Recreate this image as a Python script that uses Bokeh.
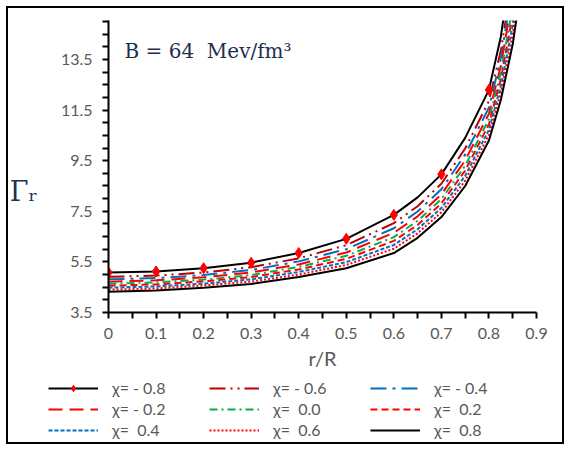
from bokeh.plotting import figure
from bokeh.layouts import column, row
from bokeh.models import Range1d, FixedTicker, Legend, LegendItem, Label
from bokeh.embed import file_html
from bokeh.resources import INLINE

# ---- data ----
r_R = [0, 0.1, 0.2, 0.3, 0.4, 0.5, 0.6, 0.65, 0.7, 0.75, 0.8, 0.825, 0.85, 0.875]
chi_m08 = [5.08, 5.12, 5.25, 5.47, 5.85, 6.41, 7.36, 8.05, 8.96, 10.40, 12.30, 14.40, 17.60, 23.00]
chi_m06 = [4.91, 4.96, 5.08, 5.29, 5.64, 6.16, 7.03, 7.70, 8.59, 9.98, 11.86, 13.85, 16.80, 21.75]
chi_m04 = [4.81, 4.86, 4.98, 5.18, 5.52, 6.00, 6.83, 7.49, 8.37, 9.74, 11.60, 13.55, 16.40, 21.01]
chi_m02 = [4.72, 4.77, 4.89, 5.08, 5.40, 5.87, 6.65, 7.30, 8.17, 9.51, 11.36, 13.25, 16.00, 20.32]
chi_p00 = [4.64, 4.69, 4.80, 4.98, 5.30, 5.74, 6.48, 7.12, 7.98, 9.30, 11.14, 12.98, 15.60, 19.69]
chi_p02 = [4.56, 4.61, 4.73, 4.90, 5.20, 5.62, 6.33, 6.96, 7.81, 9.11, 10.94, 12.72, 15.25, 19.12]
chi_p04 = [4.48, 4.53, 4.64, 4.81, 5.10, 5.49, 6.17, 6.79, 7.63, 8.90, 10.72, 12.45, 14.85, 18.50]
chi_p06 = [4.40, 4.45, 4.57, 4.72, 5.00, 5.38, 6.02, 6.63, 7.46, 8.71, 10.52, 12.18, 14.50, 17.93]
chi_p08 = [4.32, 4.37, 4.48, 4.63, 4.90, 5.25, 5.85, 6.45, 7.27, 8.50, 10.30, 11.90, 14.10, 17.30]

marker_r = [0, 0.1, 0.2, 0.3, 0.4, 0.5, 0.6, 0.7, 0.8]
marker_m08 = [5.08, 5.12, 5.25, 5.47, 5.85, 6.41, 7.36, 8.96, 12.30]

labels = ["χ= - 0.8", "χ= - 0.6", "χ= - 0.4", "χ= - 0.2", "χ=\u00a0 0.0",
          "χ=\u00a0 0.2", "χ=\u00a0 0.4", "χ=\u00a0 0.6", "χ=\u00a0 0.8"]

x_ticks = [0, 0.1, 0.2, 0.3, 0.4, 0.5, 0.6, 0.7, 0.8, 0.9]
y_ticks = [3.5, 5.5, 7.5, 9.5, 11.5, 13.5]

TICK_FONT = "Lato"
GREY = "#595959"

# series styles: (values, colour, dash)
series = [
    (chi_m08, "black", "solid"),
    (chi_m06, "#C00000", "16 5 2 5 2 5"),
    (chi_m04, "#0070C0", "16 6 3 6"),
    (chi_m02, "#FF0000", "14 7"),
    (chi_p00, "#00B050", "8 4 2 4"),
    (chi_p02, "#FF0000", "7 4"),
    (chi_p04, "#0070C0", "4 2"),
    (chi_p06, "#FF0000", "2 2"),
    (chi_p08, "black", "solid"),
]

# ---------------- main plot ----------------
p = figure(width=570, height=375, output_backend="svg", toolbar_location=None,
           x_range=Range1d(0, 0.9), y_range=Range1d(3.5, 15.04),
           min_border_left=108, min_border_right=34, min_border_top=20,
           min_border_bottom=63)
p.outline_line_color = None
p.grid.visible = False

for ys, col, dash in series:
    p.line(r_R, ys, line_color=col, line_width=2, line_dash=dash)
p.scatter(marker_r, marker_m08, marker="diamond", size=11, color="#FF0000")

for ax in (p.xaxis[0], p.yaxis[0]):
    ax.axis_line_color = "black"
    ax.axis_line_width = 2
    ax.major_tick_line_color = "black"
    ax.minor_tick_line_color = "black"
    ax.major_tick_line_width = 2
    ax.minor_tick_line_width = 2
    ax.major_tick_in = 0
    ax.minor_tick_in = 0
    ax.major_label_text_font = TICK_FONT
    ax.major_label_text_font_size = "16px"
    ax.major_label_text_color = GREY

p.xaxis.ticker = FixedTicker(ticks=x_ticks, minor_ticks=[0.05, 0.15, 0.25, 0.35, 0.45, 0.55, 0.65, 0.75, 0.85])
p.xaxis.major_label_overrides = {0: "0"}
p.xaxis.major_tick_out = 6
p.xaxis.minor_tick_out = 6
p.xaxis.major_label_standoff = 9
p.xaxis.axis_label = "r/R"
p.xaxis.axis_label_text_font = TICK_FONT
p.xaxis.axis_label_text_font_size = "20px"
p.xaxis.axis_label_text_font_style = "normal"
p.xaxis.axis_label_text_color = GREY
p.xaxis.axis_label_standoff = 4

p.yaxis.ticker = FixedTicker(ticks=y_ticks, minor_ticks=[4.0, 4.5, 5.0, 6.0, 6.5, 7.0, 8.0, 8.5, 9.0, 10.0, 10.5, 11.0, 12.0, 12.5, 13.0, 14.0, 14.5, 15.0])
p.yaxis.major_tick_out = 6
p.yaxis.minor_tick_out = 6
p.yaxis.major_label_standoff = 10
p.yaxis.axis_label = "\n\nΓᵣ"
p.yaxis.axis_label_orientation = "horizontal"
p.yaxis.axis_label_text_font = "DejaVu Serif"
p.yaxis.axis_label_text_font_size = "27px"
p.yaxis.axis_label_text_font_style = "normal"
p.yaxis.axis_label_text_color = "#1F3050"
p.yaxis.axis_label_text_line_height = 0.8
p.yaxis.axis_label_standoff = 20

p.add_layout(Label(x=16, y=250, x_units="screen", y_units="screen",
                   text="B = 64\u00a0 Mev/fm³", text_font="DejaVu Serif",
                   text_font_size="20px", text_color="#1F2D4F"))

# ---------------- legend strip ----------------
lg = figure(width=570, height=75, output_backend="svg", toolbar_location=None,
            x_range=Range1d(0, 1), y_range=Range1d(0, 1),
            x_axis_location=None, y_axis_location=None,
            min_border_left=0, min_border_right=0, min_border_top=0,
            min_border_bottom=0)
lg.outline_line_color = None
lg.grid.visible = False

items = []
for i, (ys, col, dash) in enumerate(series):
    # a single off-range point: nothing is drawn, but the legend glyph gets its style
    rs = [lg.line([r_R[0]], [ys[0]], line_color=col, line_width=2, line_dash=dash)]
    if i == 0:
        rs.append(lg.scatter([marker_r[0]], [marker_m08[0]], marker="diamond",
                             size=11, color="#FF0000"))
    items.append(LegendItem(label=labels[i], renderers=rs))

legend = Legend(items=items, orientation="horizontal", ncols=3,
                location=(48, 11),
                glyph_width=50, glyph_height=16, label_height=16,
                label_width=95, label_standoff=14, spacing=2,
                padding=0, margin=0,
                border_line_color=None, background_fill_alpha=0,
                label_text_font=TICK_FONT, label_text_font_size="16px",
                label_text_color=GREY)
lg.add_layout(legend, "center")

page = column(p, row(lg), spacing=0)
page.stylesheets = [
    ":host { position: relative; }",
    ":host::after { content: ''; position: absolute; left: 6px; top: 6px; "
    "width: 554px; height: 434px; border: 2px solid black; "
    "pointer-events: none; z-index: 100; }",
]

open("out.html", "w").write(file_html(page, INLINE))
